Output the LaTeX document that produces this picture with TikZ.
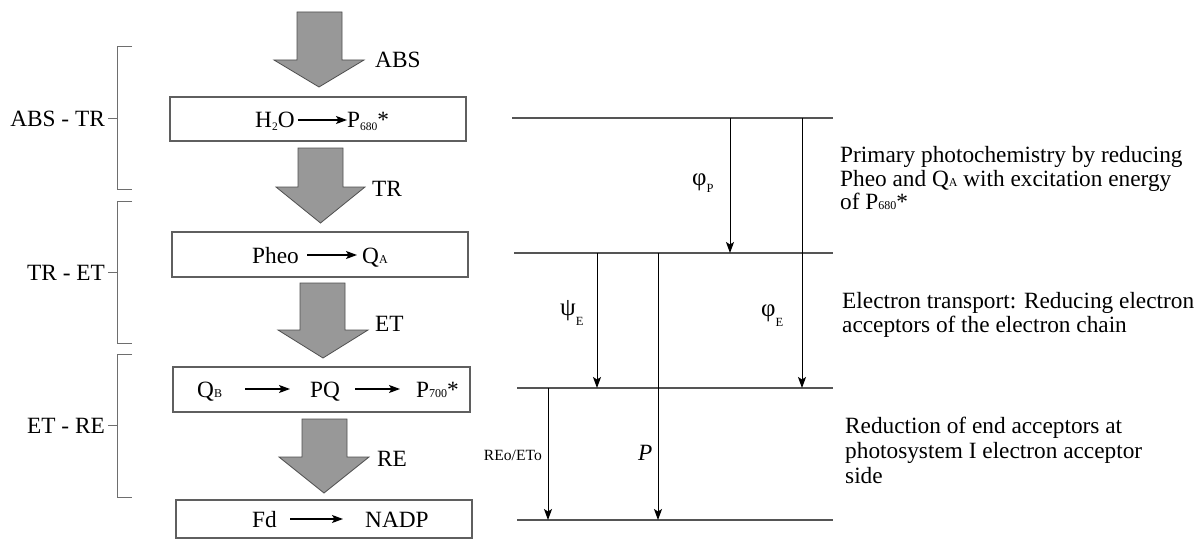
\documentclass[tikz,border=0pt]{standalone}
\usepackage{fontspec}
\setmainfont{Liberation Serif}
\usetikzlibrary{arrows.meta}
\definecolor{blockfill}{RGB}{152,152,152}
\definecolor{blockedge}{RGB}{80,80,80}
\definecolor{boxedge}{RGB}{95,95,95}
\definecolor{brk}{RGB}{110,110,110}
\definecolor{hline}{RGB}{85,85,85}
\newcommand{\lsub}[1]{\raisebox{-2.5pt}{\fontsize{11.5}{12}\selectfont #1}}
\newcommand{\bsub}[1]{\raisebox{-0.5pt}{\fontsize{12}{12}\selectfont #1}}
\newcommand{\gsub}[2][-7pt]{\raisebox{#1}{\fontsize{12.5}{13}\selectfont #2}}
\begin{document}
\begin{tikzpicture}[x=1pt,y=-1pt,
  txt/.style={inner sep=0pt, font=\fontsize{23.3}{24}\selectfont},
  greek/.style={inner sep=0pt, font=\fontsize{25}{26}\selectfont},
  smalltxt/.style={inner sep=0pt, font=\fontsize{15.6}{16}\selectfont},
  boxnode/.style={draw=boxedge, line width=1.1pt, inner sep=0pt},
  block/.style={fill=blockfill, draw=blockedge, line width=0.8pt, line join=miter},
  brace/.style={draw=brk, line width=1pt},
  level/.style={draw=hline, line width=1.2pt},
  flow/.style={draw=black, line width=1pt, -{Stealth[length=11pt,width=8pt,inset=2.5pt]}},
  inarrow/.style={draw=black, line width=1.2pt, -{Stealth[length=11pt,width=8pt,inset=2.5pt]}},
]
\fill[white] (0,0) rectangle (1203,543);
\useasboundingbox (0,0) rectangle (1203,543);

% ---- boxes
\node[boxnode, minimum width=296pt, minimum height=44pt] (box1) at (318,119) {};
\node[boxnode, minimum width=296pt, minimum height=45pt] (box2) at (320,254.5) {};
\node[boxnode, minimum width=297pt, minimum height=45pt] (box3) at (321.5,389.5) {};
\node[boxnode, minimum width=296pt, minimum height=38pt] (box4) at (324,519) {};

% box contents
\node[txt, anchor=base west] (h2o) at (255,128) {H\lsub{2}O};
\node[txt, anchor=base west] (p680) at (347,128) {P\lsub{680}*};
\draw[inarrow] ([xshift=3pt,yshift=8pt]h2o.base east) -- ([yshift=8pt]p680.base west);

\node[txt, anchor=base west] (pheo) at (252,263) {Pheo};
\node[txt, anchor=base west] (qa) at (362,263) {Q\bsub{A}};
\draw[inarrow] ([xshift=8pt,yshift=8pt]pheo.base east) -- ([xshift=-5pt,yshift=8pt]qa.base west);

\node[txt, anchor=base west] (qb) at (197,397) {Q\bsub{B}};
\node[txt, anchor=base west] (pq) at (310,397) {PQ};
\node[txt, anchor=base west] (p700) at (416,397) {P\bsub{700}*};
\draw[inarrow] ([xshift=23pt,yshift=8pt]qb.base east) -- ([xshift=-20pt,yshift=8pt]pq.base west);
\draw[inarrow] ([xshift=15pt,yshift=8pt]pq.base east) -- ([xshift=-16pt,yshift=8pt]p700.base west);

\node[txt, anchor=base west] (fd) at (252,527) {Fd};
\node[txt, anchor=base west] (nadp) at (365,527) {NADP};
\draw[inarrow] ([xshift=13pt,yshift=8pt]fd.base east) -- ([xshift=-22pt,yshift=8pt]nadp.base west);

% ---- block arrows
\draw[block] (297,12) -- (342,12) -- (342,60) -- (364,60) -- (319,87) -- (274,60) -- (297,60) -- cycle;
\draw[block] (298,148) -- (343,148) -- (343,187) -- (365,187) -- (320.5,223) -- (276,187) -- (298,187) -- cycle;
\draw[block] (300,283) -- (345,283) -- (345,330) -- (368,330) -- (323,358) -- (278,330) -- (300,330) -- cycle;
\draw[block] (302,419) -- (347,419) -- (347,457) -- (369,457) -- (324,493) -- (279,457) -- (302,457) -- cycle;

\node[txt, anchor=base west] (labs) at (375,68) {ABS};
\node[txt, anchor=base west] (ltr) at (372,196) {TR};
\node[txt, anchor=base west] (let) at (375,331) {ET};
\node[txt, anchor=base west] (lre) at (377,466) {RE};

% ---- brackets
\draw[brace] (132,47) -- (117,47) -- (117,189) -- (132,189);
\draw[brace] (108,118) -- (117,118);
\node[txt, anchor=base east] (g1) at (105,126) {ABS - TR};
\draw[brace] (132,201) -- (117,201) -- (117,343) -- (132,343);
\draw[brace] (108,272) -- (117,272);
\node[txt, anchor=base east] (g2) at (105,280) {TR - ET};
\draw[brace] (132,354) -- (117,354) -- (117,497) -- (132,497);
\draw[brace] (108,425) -- (117,425);
\node[txt, anchor=base east] (g3) at (105,433) {ET - RE};

% ---- energy levels
\coordinate (l1s) at (512,118); \coordinate (l1e) at (833,118);
\coordinate (l2s) at (514,253); \coordinate (l2e) at (833,253);
\coordinate (l3s) at (517,388); \coordinate (l3e) at (833,388);
\coordinate (l4s) at (517,520); \coordinate (l4e) at (833,520);
\draw[level] (l1s) -- (l1e);
\draw[level] (l2s) -- (l2e);
\draw[level] (l3s) -- (l3e);
\draw[level] (l4s) -- (l4e);

\coordinate (phiPt) at (730,118); \coordinate (phiPb) at (730,253);
\coordinate (phiEt) at (802,118); \coordinate (phiEb) at (802,388);
\coordinate (psiEt) at (597,253); \coordinate (psiEb) at (597,388);
\coordinate (Pt) at (658,253);    \coordinate (Pb) at (658,520);
\coordinate (REt) at (548,388);   \coordinate (REb) at (548,520);
\draw[flow] (phiPt) -- (phiPb);
\draw[flow] (phiEt) -- (phiEb);
\draw[flow] (psiEt) -- (psiEb);
\draw[flow] (Pt) -- (Pb);
\draw[flow] (REt) -- (REb);

\node[greek, anchor=base west] (phiP) at (692,185) {φ\gsub[-7pt]{P}};
\node[greek, anchor=base west] (psiE) at (560,315) {ψ\gsub[-10pt]{E}};
\node[greek, anchor=base west] (phiE) at (761,316) {φ\gsub[-10pt]{E}};
\node[smalltxt, anchor=base east] (reo) at (542,460) {REo/ETo};
\node[txt, anchor=base west] (plab) at (638,460) {\itshape P};

% ---- descriptions
\node[txt, anchor=base west] (d1a) at (840,162) {Primary photochemistry by reducing};
\node[txt, anchor=base west] (d1b) at (840,186) {Pheo and Q\bsub{A} with excitation energy};
\node[txt, anchor=base west] (d1c) at (840,209) {of P\bsub{680}*};
\node[txt, anchor=base west] (d2a) at (842,308) {Electron transport: Reducing electron};
\node[txt, anchor=base west] (d2b) at (842,332) {acceptors of the electron chain};
\node[txt, anchor=base west] (d3a) at (845,433) {Reduction of end acceptors at};
\node[txt, anchor=base west] (d3b) at (845,458) {photosystem I electron acceptor};
\node[txt, anchor=base west] (d3c) at (845,483) {side};
\end{tikzpicture}
\end{document}
